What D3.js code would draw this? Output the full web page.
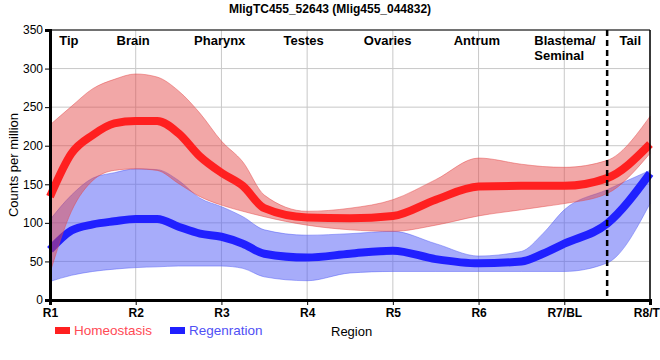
<!DOCTYPE html>
<html>
<head>
<meta charset="utf-8">
<script src="https://cdn.jsdelivr.net/npm/d3@7"></script>
<style>
  html, body { margin: 0; padding: 0; background: #fff; }
  svg { display: block; font-family: "Liberation Sans", Arial, sans-serif; }
</style>
</head>
<body>
<svg id="chart" width="660" height="360"></svg>
<script>
// ---- data ----
const categories = ["R1", "R2", "R3", "R4", "R5", "R6", "R7/BL", "R8/TL"];
const positions = [1, 1.25, 1.5, 1.75, 2, 2.25, 2.5, 2.75, 3, 3.25, 3.5, 4, 4.5, 5, 5.5, 6, 6.5, 6.75, 7, 7.5, 8];

const homeoMean  = [134, 190, 214, 229, 232, 232, 216, 186, 165, 148, 119, 107, 106, 109, 130, 147, 148, 148, 148, 158, 202];
const homeoUpper = [227, 251, 274, 286, 293, 289, 271, 242, 206, 179, 136, 115, 119, 130, 156, 184, 176, 173, 172, 181, 238];
const homeoLower = [35, 115, 155, 168, 170, 168, 151, 134, 123, 115, 108, 97, 91, 89, 97, 109, 117, 121, 125, 138, 190];

const regenMean  = [65, 90, 98, 102, 105, 105, 95, 86, 82, 73, 60, 55, 60, 64, 53, 47.5, 50, 60, 73, 99, 164];
const regenUpper = [104, 136, 158, 165, 170, 169, 155, 132, 121, 108, 91, 84, 86, 89, 73, 57, 63, 86, 117, 143, 168];
const regenLower = [24, 32, 37, 40, 42, 43, 44, 44, 44, 41, 30, 25, 35, 37, 37, 37, 37, 37, 37, 48, 125];

const yTicks = [0, 50, 100, 150, 200, 250, 300, 350];
const regionNames = [["Tip"], ["Brain"], ["Pharynx"], ["Testes"], ["Ovaries"], ["Antrum"], ["Blastema/", "Seminal"], ["Tail"]];
const regionAnchors = [1.22, 1.97, 2.98, 3.96, 4.94, 5.98, 6.65, 7.77];
const dividerAt = 7.5;

const seriesNames = ["Homeostasis", "Regenration"];
const title = "MligTC455_52643 (Mlig455_044832)";

// ---- layout ----
const svg = d3.select("#chart");
const x = d3.scaleLinear().domain([1, 8]).range([50, 650]);
const y = d3.scaleLinear().domain([0, 350]).range([300, 30]);

const red = "#ff2020", redBand = "rgb(228,72,72)";
const blue = "#2020ff", blueBand = "rgb(80,90,245)";

// title
svg.append("text").attr("x", 330).attr("y", 13).attr("text-anchor", "middle")
  .attr("font-size", 12).attr("font-weight", "bold").text(title);

// grid
const grid = svg.append("g").attr("stroke", "#c8c8c8").attr("stroke-width", 1);
grid.selectAll("line.v").data(d3.range(1, 9)).join("line")
  .attr("x1", d => x(d)).attr("x2", d => x(d)).attr("y1", y(350)).attr("y2", y(0));
grid.selectAll("line.h").data(yTicks.slice(1)).join("line")
  .attr("x1", x(1)).attr("x2", x(8)).attr("y1", d => y(d)).attr("y2", d => y(d));

// bands and lines
const pts = (vals) => positions.map((p, i) => [p, vals[i]]);
const area = d3.area().x(d => x(d[0])).y0(d => y(d[1])).y1(d => y(d[2])).curve(d3.curveMonotoneX);
const line = d3.line().x(d => x(d[0])).y(d => y(d[1])).curve(d3.curveMonotoneX);
const band = (lo, hi) => positions.map((p, i) => [p, lo[i], hi[i]]);

svg.append("path").datum(band(regenLower, regenUpper)).attr("d", area)
  .attr("fill", blueBand).attr("fill-opacity", 0.5)
  .attr("stroke", blueBand).attr("stroke-opacity", 0.6).attr("stroke-width", 0.8);
svg.append("path").datum(pts(regenMean)).attr("d", line)
  .attr("fill", "none").attr("stroke", blue).attr("stroke-width", 8);
svg.append("path").datum(band(homeoLower, homeoUpper)).attr("d", area)
  .attr("fill", redBand).attr("fill-opacity", 0.48)
  .attr("stroke", redBand).attr("stroke-opacity", 0.6).attr("stroke-width", 0.8);
svg.append("path").datum(pts(homeoMean)).attr("d", line)
  .attr("fill", "none").attr("stroke", red).attr("stroke-width", 8);

// frame top/right
svg.append("line").attr("x1", x(1)).attr("x2", x(8)).attr("y1", y(350)).attr("y2", y(350))
  .attr("stroke", "#000").attr("stroke-width", 1.2);
svg.append("line").attr("x1", x(8)).attr("x2", x(8)).attr("y1", y(350)).attr("y2", y(0))
  .attr("stroke", "#000").attr("stroke-width", 1.5);

// divider
svg.append("line").attr("x1", x(dividerAt)).attr("x2", x(dividerAt)).attr("y1", y(350)).attr("y2", y(0))
  .attr("stroke", "#000").attr("stroke-width", 2.5).attr("stroke-dasharray", "6,4");

// axes
const yAxis = svg.append("g").attr("transform", `translate(${x(1)},0)`)
  .call(d3.axisLeft(y).tickValues(yTicks).tickSize(5).tickPadding(2).tickFormat(d3.format("d")));
yAxis.select(".domain").attr("stroke-width", 3);
yAxis.selectAll("text").attr("font-size", 12).attr("font-family", "Liberation Sans, Arial, sans-serif").attr("fill", "#000");

const xAxis = svg.append("g").attr("transform", `translate(0,${y(0)})`)
  .call(d3.axisBottom(x).tickValues(d3.range(1, 9)).tickSize(5).tickPadding(3).tickFormat((d, i) => categories[i]));
xAxis.select(".domain").attr("stroke-width", 3);
xAxis.selectAll("text").attr("font-size", 12).attr("font-weight", "bold").attr("font-family", "Liberation Sans, Arial, sans-serif").attr("fill", "#000");

// region labels
regionNames.forEach((lines, i) => {
  const multi = lines.length > 1;
  const t = svg.append("text").attr("font-size", 13).attr("font-weight", "bold")
    .attr("text-anchor", multi ? "start" : "middle");
  lines.forEach((s, j) => {
    t.append("tspan").attr("x", x(regionAnchors[i])).attr("y", 45 + j * 15).text(s);
  });
});

// axis titles
svg.append("text").attr("transform", "translate(18,165) rotate(-90)").attr("text-anchor", "middle")
  .attr("font-size", 13).text("Counts per million");
svg.append("text").attr("x", 331).attr("y", 336).attr("font-size", 13).text("Region");

// legend
const legend = [[seriesNames[0], red, "#ff4a55", 55], [seriesNames[1], blue, "#5050f5", 170]];
legend.forEach(([name, c, tc, lx]) => {
  svg.append("rect").attr("x", lx).attr("y", 327).attr("width", 15).attr("height", 7).attr("fill", c);
  svg.append("text").attr("x", lx + 19).attr("y", 335).attr("font-size", 13.5).attr("fill", tc).text(name);
});
</script>
</body>
</html>
